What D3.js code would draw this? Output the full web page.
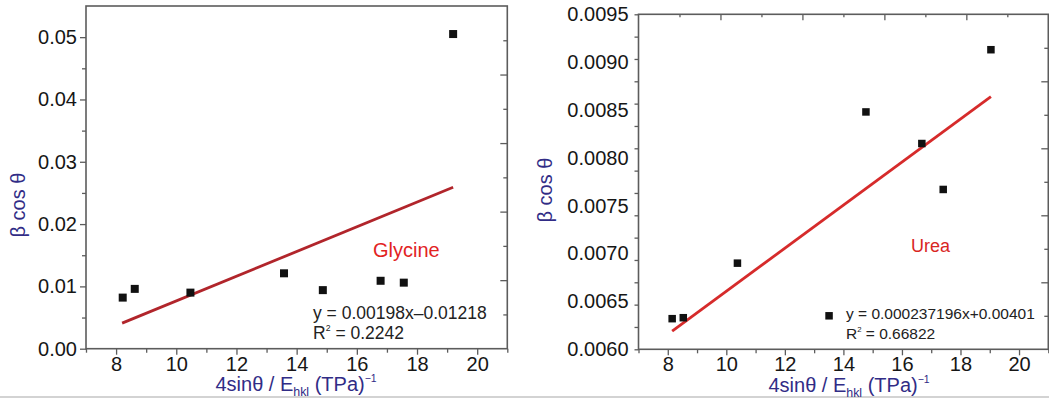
<!DOCTYPE html>
<html>
<head>
<meta charset="utf-8">
<script src="https://cdn.jsdelivr.net/npm/d3@7"></script>
<style>
  html, body { margin: 0; padding: 0; background: #fff; }
  svg { display: block; }
  text { font-family: "Liberation Sans", Arial, Helvetica, sans-serif; }
</style>
</head>
<body>
<svg id="chart" width="1049" height="402"></svg>
<script>
// ---------- data ----------
const xTicks = [8, 10, 12, 14, 16, 18, 20];
const glyTickLabels = [0, 0.01, 0.02, 0.03, 0.04, 0.05];
const ureaTickLabels = [0.0060, 0.0065, 0.0070, 0.0075, 0.0080, 0.0085, 0.0090, 0.0095];

const glyX = [8.22, 8.62, 10.47, 13.58, 14.87, 16.79, 17.56, 19.20];
const glyY = [0.0082, 0.0096, 0.0090, 0.0121, 0.0094, 0.0109, 0.0106, 0.0505];
const glyFitX = [8.2, 19.2];
const glyFitY = [0.0041, 0.0259];

const ureaX = [8.15, 8.53, 10.38, 13.51, 14.77, 16.68, 17.41, 19.04];
const ureaY = [0.00632, 0.00633, 0.00690, 0.00635, 0.00848, 0.00815, 0.00767, 0.00913];
const ureaFitX = [8.15, 19.04];
const ureaFitY = [0.00619, 0.00864];

const glyEq = ["y = 0.00198x\u20130.01218", "0.2242"];
const ureaEq = ["y = 0.000237196x+0.00401", "0.66822"];

// ---------- drawing ----------
const svg = d3.select("#chart");
const axisCol = "#5c5c5c";
const labelCol = "#312c86";

svg.append("line").attr("x1", 0).attr("x2", 1049).attr("y1", 397).attr("y2", 397)
  .attr("stroke", "#c4c4c4").attr("stroke-width", 1.5);

function styleAxis(g) {
  g.select(".domain").remove();
  g.selectAll(".tick line").attr("stroke", axisCol).attr("stroke-width", 1.3);
  g.selectAll(".tick text").attr("fill", "#161616").style("font-size", "20px")
    .style("font-family", '"Liberation Sans", Arial, sans-serif');
}

function panel(opt) {
  const x = d3.scaleLinear([7, 21], opt.xr);
  const y = d3.scaleLinear(opt.yd, opt.yr);
  const g = svg.append("g");
  const [x0, x1] = opt.xr, [y0, y1] = [opt.yr[1], opt.yr[0]];

  // bottom axis: major/minor
  const bMinor = d3.range(7, 22).filter(v => v % 2 === 1);
  g.append("g").attr("transform", `translate(0,${y1})`)
    .call(d3.axisBottom(x).tickValues(bMinor).tickSize(4).tickFormat(""))
    .call(styleAxis);
  g.append("g").attr("transform", `translate(0,${y1})`)
    .call(d3.axisBottom(x).tickValues(xTicks).tickSize(6).tickPadding(2).tickFormat(d3.format("d")))
    .call(styleAxis);

  // left axis
  if (opt.leftRegular) {
    const minor = d3.range(0, 11).map(i => i * 0.005 + 0.005).filter(v => Math.abs((v * 200) % 2 - 1) < 1e-6 && v < opt.yd[1]);
    g.append("g").attr("transform", `translate(${x0},0)`)
      .call(d3.axisLeft(y).tickValues(minor).tickSize(4).tickFormat(""))
      .call(styleAxis);
    g.append("g").attr("transform", `translate(${x0},0)`)
      .call(d3.axisLeft(y).tickValues(opt.yLabels).tickSize(6).tickPadding(3).tickFormat(opt.fmt))
      .call(styleAxis);
  } else {
    const lt = d3.scaleLinear([0, 15], opt.yr);
    g.append("g").attr("transform", `translate(${x0},0)`)
      .call(d3.axisLeft(lt).tickValues(d3.range(0, 16)).tickSize(4).tickFormat(""))
      .call(styleAxis);
    g.append("g").attr("transform", `translate(${x0},0)`)
      .call(d3.axisLeft(y).tickValues(opt.yLabels).tickSize(0).tickPadding(10).tickFormat(opt.fmt))
      .call(styleAxis);
  }

  // right axis: 10 intervals, alternating, inward
  const rt = d3.scaleLinear([0, 10], opt.yr);
  [[d3.range(1, 10, 2), 4], [d3.range(2, 10, 2), 7]].forEach(([vals, len]) => {
    g.append("g").attr("transform", `translate(${x1},0)`)
      .call(d3.axisLeft(rt).tickValues(vals).tickSize(len).tickFormat(""))
      .call(styleAxis);
  });

  // top axis ticks (right panel only)
  if (opt.topTicks) {
    const tt = d3.scaleLinear([0, 10], opt.xr);
    [[d3.range(1, 10, 2), 3], [d3.range(2, 10, 2), 6]].forEach(([vals, len]) => {
      g.append("g").attr("transform", `translate(0,${y0})`)
        .call(d3.axisBottom(tt).tickValues(vals).tickSize(len).tickFormat(""))
        .call(styleAxis);
    });
  }

  // frame
  g.append("rect").attr("x", x0).attr("y", y0).attr("width", x1 - x0).attr("height", y1 - y0)
    .attr("fill", "none").attr("stroke", axisCol).attr("stroke-width", 1.6);

  // fit line
  const fit = opt.fitX.map((v, i) => [v, opt.fitY[i]]);
  g.append("path").datum(fit)
    .attr("d", d3.line().x(d => x(d[0])).y(d => y(d[1])))
    .attr("stroke", opt.lineCol).attr("stroke-width", 2.8).attr("fill", "none");

  // points
  const pts = opt.px.map((v, i) => [v, opt.py[i]]);
  const s = opt.ms;
  g.selectAll("rect.pt").data(pts).join("rect").attr("class", "pt")
    .attr("x", d => x(d[0]) - s / 2).attr("y", d => y(d[1]) - s / 2)
    .attr("width", s).attr("height", s).attr("fill", "#111");

  // name label
  g.append("text").attr("x", opt.name[1]).attr("y", opt.name[2])
    .attr("fill", opt.nameCol).style("font-size", opt.name[3] + "px")
    .attr("dominant-baseline", "central").text(opt.name[0]);

  // equation
  const eq = g.append("g").attr("fill", "#222").style("font-size", opt.eqSize + "px");
  eq.append("text").attr("x", opt.eqPos[0]).attr("y", opt.eqPos[1] + opt.eqSize * 0.36)
    .text(opt.eq[0]);
  const r2 = eq.append("text").attr("x", opt.eqPos[0]).attr("y", opt.eqPos[1] + 20 + opt.eqSize * 0.36);
  const sup = Math.round(opt.eqSize * 0.45);
  r2.append("tspan").text("R");
  r2.append("tspan").attr("dy", -sup).style("font-size", "50%").text("2");
  r2.append("tspan").attr("dy", sup).text(" = " + opt.eq[1]);

  // x label
  const xl = g.append("text").attr("x", opt.xlab[0]).attr("y", opt.xlab[1])
    .attr("text-anchor", "middle").attr("fill", labelCol).style("font-size", "20px");
  xl.append("tspan").text("4sin\u03B8 / E");
  xl.append("tspan").attr("dy", 5).style("font-size", "62%").text("hkl");
  xl.append("tspan").attr("dy", -5).text(" (TPa)");
  xl.append("tspan").attr("dy", -9).style("font-size", "52%").text("\u22121");

  // y label
  g.append("text").attr("transform", `translate(${opt.ylab[0]},${opt.ylab[1]}) rotate(-90)`)
    .attr("text-anchor", "middle").attr("dominant-baseline", "central")
    .attr("fill", labelCol).style("font-size", "20px").text("\u03B2 cos \u03B8");
}

panel({
  xr: [86, 507.3], yd: [0, 0.055], yr: [348.7, 6],
  yLabels: glyTickLabels, fmt: d3.format(".2f"), leftRegular: true, topTicks: false,
  px: glyX, py: glyY, fitX: glyFitX, fitY: glyFitY, ms: 8,
  lineCol: "#b1252b", name: ["Glycine", 373, 250, 20], nameCol: "#e2231f",
  eq: glyEq, eqPos: [313, 313], eqSize: 17.5,
  xlab: [296, 391], ylab: [18, 205]
});

panel({
  xr: [638.5, 1048.3], yd: [0.006, 0.0095], yr: [349.3, 14.3],
  yLabels: ureaTickLabels, fmt: d3.format(".4f"), leftRegular: false, topTicks: true,
  px: ureaX, py: ureaY, fitX: ureaFitX, fitY: ureaFitY, ms: 7.5,
  lineCol: "#d62b2b", name: ["Urea", 911, 246, 18], nameCol: "#d9261f",
  eq: ureaEq, eqPos: [846, 313], eqSize: 15.5,
  xlab: [849, 392], ylab: [545, 190]
});
</script>
</body>
</html>
